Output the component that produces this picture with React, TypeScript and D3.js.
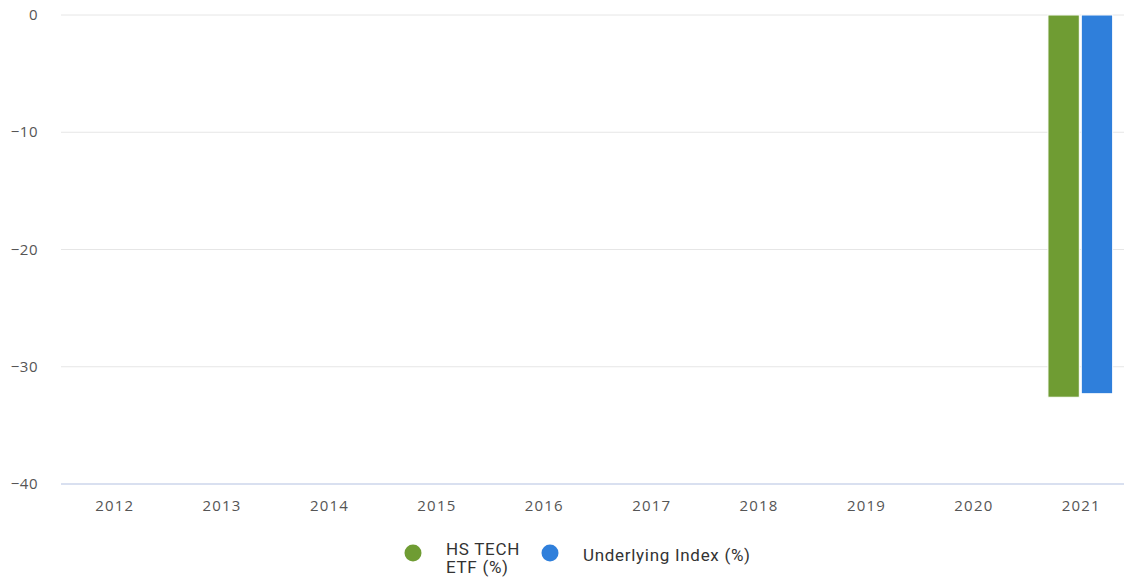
import React from "react";
import * as d3 from "d3";

const years = ["2012", "2013", "2014", "2015", "2016", "2017", "2018", "2019", "2020", "2021"];
const etfValues: (number | null)[] = [null, null, null, null, null, null, null, null, null, -32.6];
const indexValues: (number | null)[] = [null, null, null, null, null, null, null, null, null, -32.3];
const yTicks = [0, -10, -20, -30, -40];
const seriesNames = ["HS TECH ETF (%)", "Underlying Index (%)"];
const seriesColors = ["#6f9c33", "#2f7fdb"];

export default function App() {
  const W = 1124, H = 578;
  const x = d3.scaleBand<string>().domain(years).range([61, 1135]).paddingInner(0).paddingOuter(0);
  const y = d3.scaleLinear().domain([-40, 0]).range([484, 15]);
  const inner = d3.scaleBand<number>().domain([0, 1]).range([-1, x.bandwidth() - 1]).paddingInner(0.06).paddingOuter(0.64);
  const font = "'Open Sans', 'DejaVu Sans', sans-serif";
  const series = [etfValues, indexValues];
  return (
    <svg width={W} height={H} style={{ position: "absolute", left: 0, top: 0, background: "#fff" }}>
      {yTicks.map((t) => (
        <g key={t}>
          <line x1={61} x2={1124} y1={y(t)} y2={y(t)} stroke={t === -40 ? "#ccd6eb" : "#e6e6e6"} strokeWidth={t === -40 ? 1.5 : 1} />
          <text x={38} y={y(t) + 5} textAnchor="end" fontFamily={font} fontSize={15} letterSpacing={0.5} fill="#555">
            {t === 0 ? "0" : "\u2212" + Math.abs(t)}
          </text>
        </g>
      ))}
      {years.map((yr) => (
        <text key={yr} x={(x(yr) as number) + x.bandwidth() / 2} y={511} textAnchor="middle" fontFamily={font} fontSize={15} letterSpacing={1.2} fill="#555">
          {yr}
        </text>
      ))}
      {series.map((vals, si) =>
        vals.map((v, i) =>
          v == null ? null : (
            <rect
              key={si + "-" + i}
              x={(x(years[i]) as number) + (inner(si) as number)}
              y={y(Math.max(0, v))}
              width={inner.bandwidth()}
              height={Math.abs(y(v) - y(0))}
              fill={seriesColors[si]}
              stroke="#fff"
              strokeWidth={1}
            />
          )
        )
      )}
      <g fontFamily="Roboto, 'Open Sans', sans-serif" fontSize={17} letterSpacing={0.7} fill="#333">
        <circle cx={413} cy={553} r={8.5} fill={seriesColors[0]} />
        <text x={446} y={555}>HS TECH</text>
        <text x={446} y={573}>ETF (%)</text>
        <circle cx={550} cy={553} r={8.5} fill={seriesColors[1]} />
        <text x={583} y={561}>{seriesNames[1]}</text>
      </g>
    </svg>
  );
}
